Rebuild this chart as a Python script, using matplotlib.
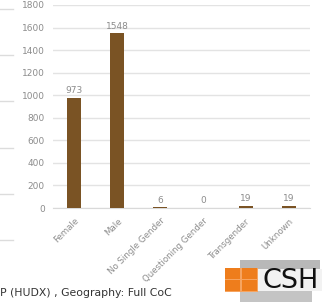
import matplotlib.pyplot as plt
from matplotlib.lines import Line2D
from matplotlib.patches import Rectangle

categories = ["Female", "Male", "No Single Gender", "Questioning Gender",
              "Transgender", "Unknown"]
counts = [973, 1548, 6, 0, 19, 19]
y_ticks = [0, 200, 400, 600, 800, 1000, 1200, 1400, 1600, 1800]

bar_color = "#7a5324"
text_gray = "#8c8c8c"

W, H = 327, 303
fig = plt.figure(figsize=(W / 100, H / 100), dpi=100)


def px_rect(x0, y0, w, h, color):
    # rectangle given in pixel coords (top-left origin)
    fig.add_artist(Rectangle((x0 / W, 1 - (y0 + h) / H), w / W, h / H,
                             transform=fig.transFigure, color=color, lw=0))


# axes placed in pixel coords
left, right, top, bottom = 53, 310, 5, 208
ax = fig.add_axes([left / W, 1 - bottom / H, (right - left) / W, (bottom - top) / H])

x = range(len(categories))
ax.bar(x, counts, width=0.33, color=bar_color, zorder=3)
for xi, v in zip(x, counts):
    ax.text(xi, v + 25, str(v), ha="center", va="bottom", fontsize=6.5,
            color=text_gray)

ax.set_xlim(-0.5, len(categories) - 0.5)
ax.set_ylim(0, 1800)
ax.set_yticks(y_ticks)
ax.set_yticklabels([str(t) for t in y_ticks], fontsize=6.5, color=text_gray)
ax.set_xticks(list(x))
ax.set_xticklabels(categories, rotation=45, ha="right", rotation_mode="anchor",
                   fontsize=6.2, color=text_gray)
ax.yaxis.grid(True, color="#e3e3e3", linewidth=1)
ax.set_axisbelow(True)
ax.tick_params(length=0, pad=6)
for s in ax.spines.values():
    s.set_visible(False)
ax.spines["bottom"].set_visible(True)
ax.spines["bottom"].set_color("#d9d9d9")

# leftover gridlines from the neighbouring chart
for yy in [9, 55, 101, 148, 194, 240]:
    fig.add_artist(Line2D([0, 13 / W], [1 - yy / H, 1 - yy / H],
                          color="#dcdcdc", linewidth=1))

fig.text(0, 1 - 293 / H, "P (HUDX) , Geography: Full CoC", fontsize=7.8,
         color="#333333", va="center", ha="left")

# CSH logo
px_rect(240, 260, 80, 9, "#b8b8b8")
px_rect(240, 269, 82, 22, "#f2f2f2")
px_rect(240, 291, 72, 11, "#c4c4c4")
px_rect(225, 268, 33, 24, "#f6a460")
for i in range(2):
    for j in range(2):
        px_rect(225 + i * 17, 268 + j * 12, 15, 11, "#ee7d1c")
fig.text(262 / W, 1 - 281 / H, "CSH", fontsize=19.5, color="#111111",
         va="center", ha="left")

fig.savefig("out.png", dpi=100)
